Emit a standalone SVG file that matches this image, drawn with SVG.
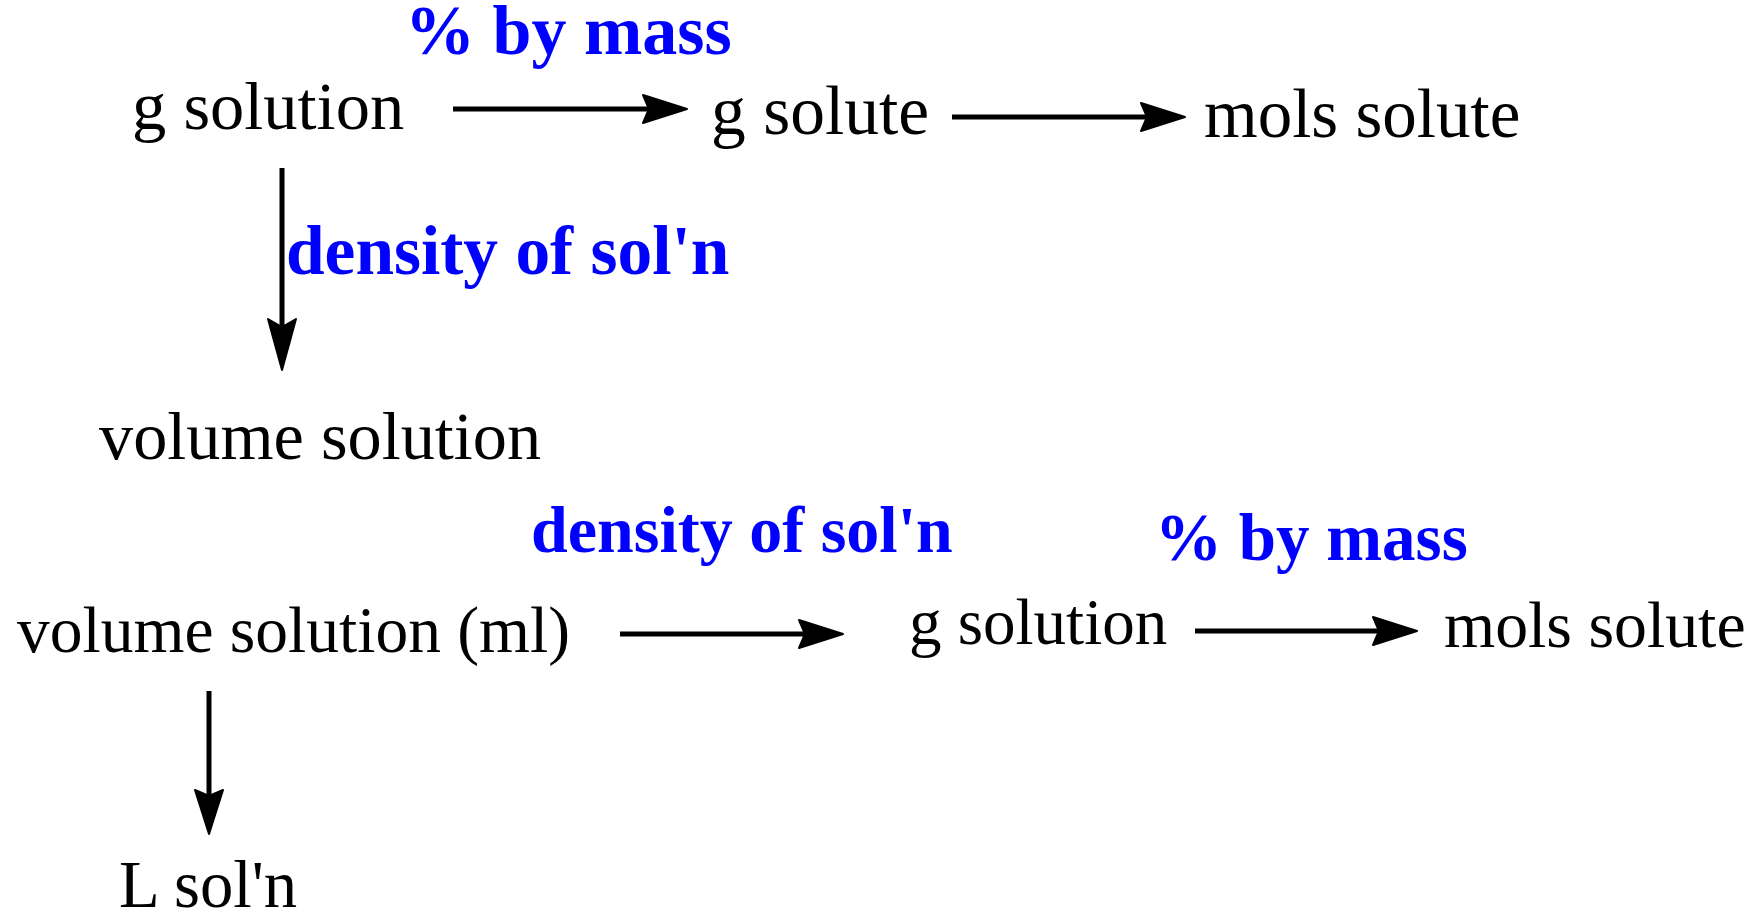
<svg xmlns="http://www.w3.org/2000/svg" width="1756" height="912" viewBox="0 0 1756 912">
<style>
.t{font-family:"Liberation Serif","Times New Roman",serif;fill:#000}
.b{font-family:"Liberation Serif","Times New Roman",serif;font-weight:bold;fill:#0000ff}
.c{stroke:#000;stroke-width:5;fill:none;marker-end:url(#ah)}
.cl{stroke:#000;stroke-width:5;fill:none;marker-end:url(#ahl)}
.hd{fill:#000;stroke:#000;stroke-width:2;stroke-linejoin:round}
</style>
<defs>
<marker id="ah" markerUnits="userSpaceOnUse" viewBox="-40 -18 54 36" refX="0" refY="0" markerWidth="54" markerHeight="36" orient="auto">
<path class="hd" d="M10,0 L-34,-14 L-28,0 L-34,14 Z"/>
</marker>
<marker id="ahl" markerUnits="userSpaceOnUse" viewBox="-48 -18 62 36" refX="0" refY="0" markerWidth="62" markerHeight="36" orient="auto">
<path class="hd" d="M10,0 L-41,-14 L-33,0 L-41,14 Z"/>
</marker>
</defs>
<rect width="1756" height="912" fill="#fff"/>
<g id="n1"><text class="t" x="132" y="129" font-size="68.5">g solution</text></g>
<g id="n2"><text class="t" x="711" y="134" font-size="69.5">g solute</text></g>
<g id="n3"><text class="t" x="1204" y="137" font-size="69">mols solute</text></g>
<g id="n4"><text class="t" x="99" y="459" font-size="68.3">volume solution</text></g>
<g id="n5"><text class="t" x="17" y="652" font-size="65.5">volume solution (ml)</text></g>
<g id="n6"><text class="t" x="909" y="644" font-size="65">g solution</text></g>
<g id="n7"><text class="t" x="1444" y="647" font-size="65.8">mols solute</text></g>
<g id="n8"><text class="t" x="119" y="907" font-size="66.7">L sol'n</text></g>
<g id="labels">
<text class="b" x="405" y="54" font-size="70">% by mass</text>
<text class="b" x="286" y="274" font-size="69.4">density of sol'n</text>
<text class="b" x="531" y="552" font-size="66">density of sol'n</text>
<text class="b" x="1155" y="560" font-size="67">% by mass</text>
</g>
<g id="connectors">
<path class="c" d="M453,109 H677"/>
<path class="c" d="M952,117 H1175"/>
<path class="c" d="M620,634 H833"/>
<path class="c" d="M1195,631 H1407"/>
<path class="cl" d="M282,168 V360"/>
<path class="c" d="M209,691 V824"/>
</g>
</svg>
